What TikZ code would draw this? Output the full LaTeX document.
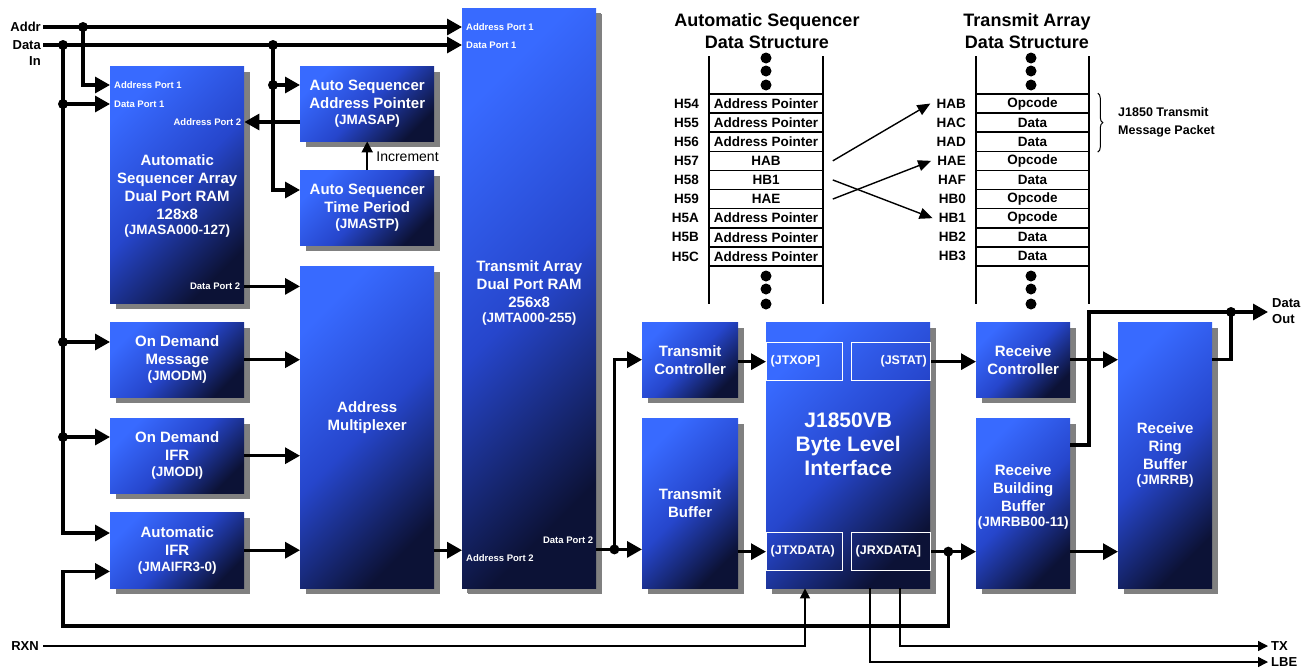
\documentclass[tikz,border=0pt]{standalone}
\usepackage{fontspec}
\setmainfont{Liberation Sans}
\usetikzlibrary{arrows.meta,shadows,decorations.pathreplacing}
\definecolor{blockhi}{RGB}{56, 106, 255}
\definecolor{blockmid}{RGB}{38, 70, 204}
\definecolor{blocklo}{RGB}{12, 18, 54}
\definecolor{shadowgrey}{RGB}{128, 128, 128}
\newcommand{\regname}[1]{{\fontsize{13.5}{15}\selectfont #1}}
\tikzset{
  block/.style={
    anchor=north west, inner sep=0pt, align=center, text=white,
    font=\bfseries\fontsize{15}{18}\selectfont,
    top color=blockhi, bottom color=blocklo, middle color=blockmid,
    shading angle=45,
    drop shadow={opacity=1, fill=shadowgrey, shadow xshift=6pt, shadow yshift=-6pt},
  },
  regbox/.style={
    anchor=north west, draw=white, line width=1.3pt, minimum height=38pt,
    inner xsep=4pt, inner ysep=0pt, text=white,
    font=\bfseries\fontsize{12.5}{14}\selectfont,
  },
  port/.style={inner sep=0pt, text=white, font=\bfseries\fontsize{9.5}{11}\selectfont},
  sig/.style={inner sep=0pt, font=\bfseries\fontsize{13}{15}\selectfont},
  cell/.style={draw, line width=1.6pt, minimum width=114pt, minimum height=19.1pt,
    inner sep=0pt, font=\bfseries\fontsize{13.5}{15}\selectfont},
  rowlabel/.style={anchor=east, inner sep=2pt, font=\bfseries\fontsize{13.5}{15}\selectfont},
  title/.style={align=center, inner sep=0pt, font=\bfseries\fontsize{18}{22}\selectfont},
  column/.style={line width=1.6pt},
  bus/.style={line width=3.2pt, >={Triangle[length=15pt,width=16pt]}},
  wire/.style={line width=1.4pt, >={Triangle[length=10pt,width=10pt]}},
  pointer/.style={line width=1.4pt, >={Triangle[length=13pt,width=11pt]}},
}

\begin{document}
\begin{tikzpicture}[x=1pt, y=-1pt]
  \useasboundingbox (0,0) rectangle (1306,667);

  % Blocks
  \node[block, minimum width=134pt, minimum height=237pt] (asa) at (110,66)
    {\mbox{}\\[16pt]Automatic\\Sequencer Array\\Dual Port RAM\\128x8\\[-3pt]\regname{(JMASA000-127)}};
  \node[block, minimum width=134pt, minimum height=75pt] (ap) at (300,66)
    {Auto Sequencer\\Address Pointer\\[-2pt]\regname{(JMASAP)}};
  \node[block, minimum width=134pt, minimum height=75pt] (tp) at (300,170)
    {Auto Sequencer\\Time Period\\[-2pt]\regname{(JMASTP)}};
  \node[block, minimum width=134pt, minimum height=322pt] (am) at (300,266)
    {Address\\Multiplexer\\[4pt]\mbox{}};
  \node[block, minimum width=134pt, minimum height=75pt] (odm) at (110,322)
    {On Demand\\Message\\[-2pt]\regname{(JMODM)}};
  \node[block, minimum width=134pt, minimum height=75pt] (odi) at (110,418)
    {On Demand\\IFR\\[-2pt]\regname{(JMODI)}};
  \node[block, minimum width=134pt, minimum height=76pt] (aifr) at (110,512)
    {Automatic\\IFR\\[-2pt]\regname{(JMAIFR3-0)}};
  \node[block, minimum width=134pt, minimum height=580pt,
        drop shadow={opacity=1, fill=shadowgrey, shadow xshift=5pt, shadow yshift=-5pt}] (ta) at (462,8)
    {Transmit Array\\Dual Port RAM\\256x8\\[-3pt]\regname{(JMTA000-255)}\\[-4pt]\mbox{}};
  \node[block, minimum width=96pt, minimum height=75pt] (tc) at (642,322)
    {Transmit\\Controller};
  \node[block, minimum width=96pt, minimum height=170pt] (tb) at (642,418)
    {Transmit\\Buffer};
  \node[block, minimum width=164pt, minimum height=266pt,
        font=\bfseries\fontsize{21}{24}\selectfont] (jb) at (766,322)
    {J1850VB\\Byte Level\\Interface\\[-2pt]\mbox{}};
  \node[block, minimum width=94pt, minimum height=75pt] (rc) at (976,322)
    {Receive\\Controller};
  \node[block, minimum width=94pt, minimum height=170pt] (rbb) at (976,418)
    {Receive\\Building\\Buffer\\[-3pt]\regname{(JMRBB00-11)}\\[-2pt]\mbox{}};
  \node[block, minimum width=94pt, minimum height=266pt] (rrb) at (1118,322)
    {Receive\\Ring\\Buffer\\[-3pt]\regname{(JMRRB)}};

  % Register boxes of the byte level interface
  \node[regbox, text width=68pt, align=left] (jtxop) at (766,342) {(JTXOP]};
  \node[regbox, text width=71pt, align=right] (jstat) at (851,342) {(JSTAT)};
  \node[regbox, text width=68pt, align=left] (jtxdata) at (766,532) {(JTXDATA)};
  \node[regbox, text width=71pt, align=left] (jrxdata) at (851,532) {(JRXDATA]};

  % Port labels
  \node[port, anchor=west] (asaap1) at ([xshift=4pt,yshift=-19pt]asa.north west) {Address Port 1};
  \node[port, anchor=west] (asadp1) at ([xshift=4pt,yshift=-38pt]asa.north west) {Data Port 1};
  \node[port, anchor=east] (asaap2) at ([xshift=-3pt,yshift=-56pt]asa.north east) {Address Port 2};
  \node[port, anchor=east] (asadp2) at ([xshift=-4pt,yshift=17pt]asa.south east) {Data Port 2};
  \node[port, anchor=west] (taap1) at ([xshift=4pt,yshift=-19pt]ta.north west) {Address Port 1};
  \node[port, anchor=west] (tadp1) at ([xshift=4pt,yshift=-37pt]ta.north west) {Data Port 1};
  \node[port, anchor=east] (tadp2) at ([xshift=-3pt,yshift=48pt]ta.south east) {Data Port 2};
  \node[port, anchor=west] (taap2) at ([xshift=4pt,yshift=30pt]ta.south west) {Address Port 2};

  % Outside signals
  \coordinate (addrin) at (43,27);
  \coordinate (datain) at (43,45);
  \coordinate (rxnin) at (43,646);
  \coordinate (txout) at (1268,646);
  \coordinate (lbeout) at (1268,662);
  \coordinate (dataout) at (1268,312);
  \node[sig, anchor=east] (addrlbl) at ([xshift=-2pt]addrin) {Addr};
  \node[sig, anchor=east] (datalbl) at ([xshift=-2pt]datain) {Data};
  \node[sig, anchor=east] (inlbl) at ([xshift=-2pt,yshift=-16pt]datain) {In};
  \node[sig, anchor=east] (rxnlbl) at ([xshift=-4pt]rxnin) {RXN};
  \node[sig, anchor=west] (txlbl) at ([xshift=3pt]txout) {TX};
  \node[sig, anchor=west] (lbelbl) at ([xshift=3pt]lbeout) {LBE};
  \node[sig, anchor=west] (doutlbl) at ([xshift=4pt,yshift=9pt]dataout) {Data};
  \node[sig, anchor=west] (outlbl) at ([xshift=4pt,yshift=-7pt]dataout) {Out};

  % Junctions
  \coordinate (ja) at (83,27);
  \coordinate (jd) at (63,45);
  \coordinate (jt) at (273,45);
  \coordinate (apin) at ([yshift=-19pt]ap.north west);
  \coordinate (tpin) at ([yshift=-20pt]tp.north west);
  \coordinate (odmin) at ([yshift=-20pt]odm.north west);
  \coordinate (odiin) at ([yshift=-19pt]odi.north west);
  \coordinate (aifrin) at ([yshift=-21pt]aifr.north west);
  \coordinate (aifrrx) at ([yshift=17pt]aifr.south west);
  \coordinate (jdp1) at (jd |- asadp1);
  \coordinate (jodm) at (jd |- odmin);
  \coordinate (jodi) at (jd |- odiin);
  \coordinate (jap) at (jt |- apin);
  \coordinate (tadp2out) at ([yshift=39pt]ta.south east);
  \coordinate (jx) at ([xshift=18pt]tadp2out);
  \coordinate (jr) at ([xshift=17pt]jrxdata.east);
  \coordinate (loopc) at (63,626);
  \coordinate (rise) at (1089,312);
  \coordinate (jo) at (1231,312);

  % Buses
  \draw[bus,->] (addrin) -- (addrin -| ta.west);
  \draw[bus,->] (datain) -- (datain -| ta.west);
  \draw[bus,->] (ja) |- (asa.west |- asaap1);
  \draw[bus,->] (jd) |- (aifrin);
  \draw[bus,->] (jdp1) -- (asa.west |- asadp1);
  \draw[bus,->] (jodm) -- (odmin);
  \draw[bus,->] (jodi) -- (odiin);
  \draw[bus,->] (jt) |- (tpin);
  \draw[bus,->] (jap) -- (apin);
  \draw[bus,->] (ap.west |- asaap2) -- (asa.east |- asaap2);
  \draw[line width=2pt, >={Triangle[length=11pt,width=11pt]}, ->] (tp.north) -- (ap.south);
  \node[anchor=west, inner sep=0pt, font=\fontsize{14}{16}\selectfont] (inclbl)
    at ([xshift=9pt,yshift=13pt]tp.north) {Increment};
  \draw[bus,->] (asa.east |- asadp2) -- (am.west |- asadp2);
  \draw[bus,->] (odm.east) -- (odm.east -| am.west);
  \draw[bus,->] (odi.east) -- (odi.east -| am.west);
  \draw[bus,->] (aifr.east) -- (aifr.east -| am.west);
  \draw[bus,->] (am.east |- aifr.east) -- (ta.west |- aifr.east);
  \draw[bus,->] (tadp2out) -- (jx -| tb.west);
  \draw[bus,->] (jx) |- (tc.west);
  \draw[bus,->] (jtxop.west -| tc.east) -- (jtxop.west);
  \draw[bus,->] (jtxdata.west -| tb.east) -- (jtxdata.west);
  \draw[bus,->] (jstat.east) -- (jstat.east -| rc.west);
  \draw[bus,->] (jrxdata.east) -- (jrxdata.east -| rbb.west);
  \draw[bus,->] (jr) |- (loopc) |- (aifrrx);
  \draw[bus,->] (rc.east) -- (rc.east -| rrb.west);
  \draw[bus,->] (jrxdata.east -| rbb.east) -- (jrxdata.east -| rrb.west);
  \draw[bus,->] ([yshift=-27pt]rbb.north east) -| (rise) -- (dataout);
  \draw[bus] (rrb.east |- rc.east) -| (jo);

  % Serial lines
  \draw[wire,->] (rxnin) -| ([xshift=39pt]jb.south west);
  \draw[wire,->] ([xshift=134pt]jb.south west) |- (txout);
  \draw[wire,->] ([xshift=104pt]jb.south west) |- (lbeout);

  % Junction dots
  \foreach \j in {ja,jd,jt,jdp1,jodm,jodi,jap,jx,jr,jo}
    \fill (\j) circle (5pt);

  % Automatic sequencer data structure
  \node[title] (astitle) at (767,31) {Automatic Sequencer\\Data Structure};
  \draw[column] (709,56) -- (709,304);
  \draw[column] (823,56) -- (823,304);
  \foreach \lbl/\txt [count=\i] in {H54/Address Pointer, H55/Address Pointer,
      H56/Address Pointer, H57/HAB, H58/HB1, H59/HAE, H5A/Address Pointer,
      H5B/Address Pointer, H5C/Address Pointer} {
    \pgfmathsetmacro{\yc}{94+19.1*(\i-0.5)}
    \node[cell, fill=white] (asc\i) at (766,\yc) {\txt};
    \node[rowlabel] (asl\i) at (701,\yc) {\lbl};
  }

  % Transmit array data structure
  \node[title] (tatitle) at (1027,31) {Transmit Array\\Data Structure};
  \draw[column] (976,56) -- (976,304);
  \draw[column] (1089,56) -- (1089,304);
  \foreach \lbl/\txt [count=\i] in {HAB/Opcode, HAC/Data, HAD/Data, HAE/Opcode,
      HAF/Data, HB0/Opcode, HB1/Opcode, HB2/Data, HB3/Data} {
    \pgfmathsetmacro{\yc}{94+19.1*(\i-0.5)}
    \node[cell, fill=white, minimum width=113pt] (tac\i) at (1032.5,\yc) {\txt};
    \node[rowlabel] (tal\i) at (968,\yc) {\lbl};
  }

  % Ellipsis dots
  \foreach \y in {58,71,85,276,289,304} {
    \fill (766,\y) circle (5.5pt);
    \fill (1031,\y) circle (5.5pt);
  }

  % Pointers into the transmit array
  \draw[pointer,->] ([xshift=9pt]asc4.east) -- ([xshift=-4pt]tal1.west);
  \draw[pointer,->] ([xshift=9pt]asc5.east) -- ([xshift=-4pt]tal7.west);
  \draw[pointer,->] ([xshift=9pt]asc6.east) -- ([xshift=-4pt]tal4.west);

  % Message packet
  \draw[line width=1pt, decorate, decoration={brace, amplitude=5pt}]
    ([xshift=8pt]tac1.north east) -- ([xshift=8pt]tac3.south east);
  \node[anchor=west, align=left, inner sep=0pt, font=\bfseries\fontsize{12.5}{18}\selectfont] (pktlbl)
    at (1118,122) {J1850 Transmit\\Message Packet};
\end{tikzpicture}
\end{document}
